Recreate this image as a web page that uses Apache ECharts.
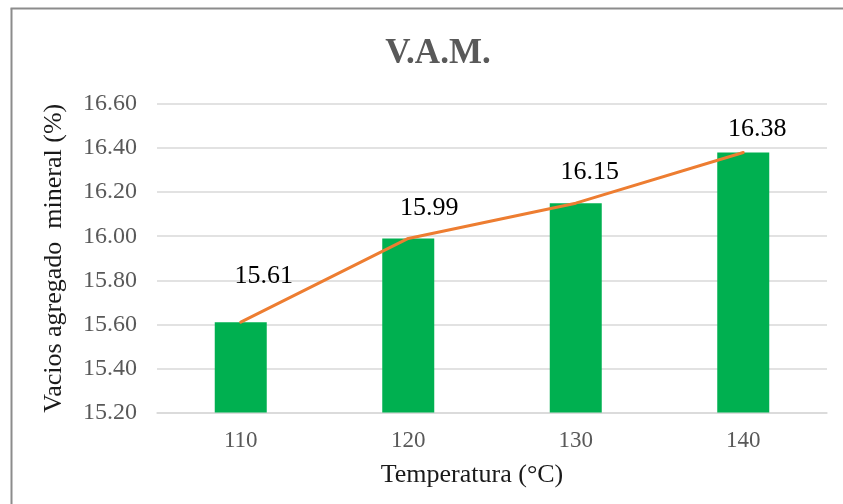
<!DOCTYPE html>
<html>
<head>
<meta charset="utf-8">
<script src="https://cdn.jsdelivr.net/npm/echarts@6/dist/echarts.min.js"></script>
<style>
  html, body { margin: 0; padding: 0; background: #ffffff; overflow: hidden; }
  #chart { width: 843px; height: 504px; }
</style>
</head>
<body>
<div id="chart"></div>
<script>
// Temperatures (°C) and V.A.M. (voids in mineral aggregate, %)
const temperatures = ['110', '120', '130', '140'];
const vamValues = [15.61, 15.99, 16.15, 16.38];

// Axis range
const yMin = 15.2;
const yMax = 16.6;
const yStep = 0.2;

// Hand-placed offsets of the value labels relative to each point (px)
const labelOffsets = [[23, -46], [21, -30], [14, -31], [14, -23]];

const serif = '"Liberation Serif", "Times New Roman", serif';

const chart = echarts.init(document.getElementById('chart'), null, { renderer: 'canvas' });

const lineData = vamValues.map((v, i) => ({
  value: v,
  label: { offset: labelOffsets[i] }
}));

chart.setOption({
  animation: false,
  backgroundColor: '#ffffff',
  title: {
    text: 'V.A.M.',
    left: 433,
    top: 31,
    textAlign: 'center',
    textStyle: {
      fontFamily: serif,
      fontWeight: 'bold',
      fontSize: 35,
      color: '#595959'
    }
  },
  grid: { left: 157, right: 16, top: 104, bottom: 91.5, containLabel: false },
  xAxis: {
    type: 'category',
    data: temperatures,
    name: 'Temperatura (°C)',
    nameLocation: 'middle',
    nameGap: 50,
    nameTextStyle: {
      fontFamily: serif,
      fontSize: 26,
      color: '#1a1a1a',
      padding: [0, 40, 0, 0]
    },
    axisLine: { lineStyle: { color: '#d9d9d9', width: 1.5 } },
    axisTick: { show: false },
    axisLabel: {
      fontFamily: serif,
      fontSize: 23,
      color: '#595959',
      margin: 17
    }
  },
  yAxis: {
    type: 'value',
    min: yMin,
    max: yMax,
    interval: yStep,
    name: 'Vacios agregado  mineral (%)',
    nameLocation: 'middle',
    nameGap: 90,
    nameRotate: 90,
    nameTextStyle: {
      fontFamily: serif,
      fontSize: 26,
      color: '#1a1a1a'
    },
    axisLine: { show: false },
    axisTick: { show: false },
    splitLine: { lineStyle: { color: '#d9d9d9', width: 1.5 } },
    axisLabel: {
      fontFamily: serif,
      fontSize: 24,
      color: '#595959',
      margin: 20,
      formatter: v => v.toFixed(2)
    }
  },
  series: [
    {
      type: 'bar',
      data: vamValues,
      barWidth: 52,
      itemStyle: { color: '#00b050' },
      z: 2
    },
    {
      type: 'line',
      data: lineData,
      symbol: 'circle',
      symbolSize: 1,
      showSymbol: true,
      itemStyle: { color: 'rgba(237,125,49,0)' },
      lineStyle: { color: '#ed7d31', width: 3, cap: 'round' },
      label: {
        show: true,
        position: 'inside',
        align: 'center',
        verticalAlign: 'middle',
        fontFamily: serif,
        fontSize: 26,
        color: '#000000',
        formatter: p => p.value.toFixed(2)
      },
      z: 3
    }
  ],
  graphic: [
    {
      type: 'line',
      shape: { x1: 11.5, y1: 504, x2: 11.5, y2: 8.5 },
      style: { stroke: '#8c8c8c', lineWidth: 2 },
      silent: true,
      z: 10
    },
    {
      type: 'line',
      shape: { x1: 10.5, y1: 8.5, x2: 843, y2: 8.5 },
      style: { stroke: '#8c8c8c', lineWidth: 2 },
      silent: true,
      z: 10
    }
  ]
});
</script>
</body>
</html>
